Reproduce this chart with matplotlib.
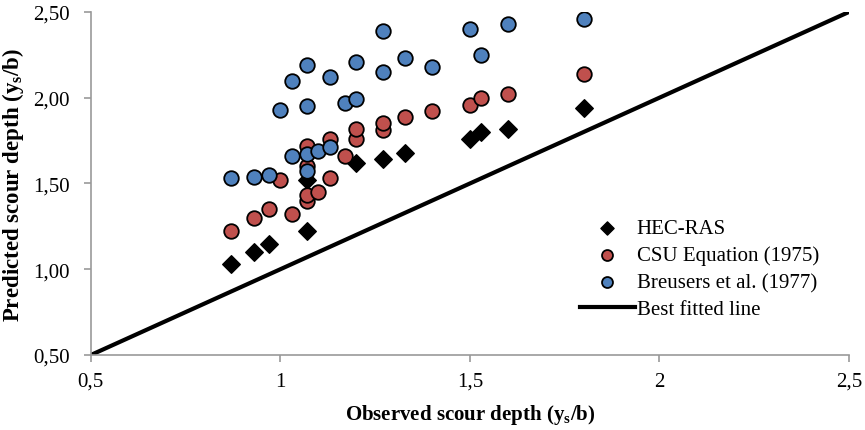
import matplotlib
matplotlib.use('Agg')
import matplotlib.pyplot as plt
from matplotlib.ticker import FuncFormatter

plt.rcParams['font.family'] = 'Liberation Serif'
plt.rcParams['mathtext.fontset'] = 'custom'
plt.rcParams['mathtext.rm'] = 'Liberation Serif'
plt.rcParams['mathtext.bf'] = 'Liberation Serif:bold'

# observed vs predicted (ys/b)
hec_x = [0.87, 0.93, 0.97, 1.07, 1.07, 1.20, 1.27, 1.33, 1.50, 1.53, 1.60, 1.80]
hec_y = [1.03, 1.10, 1.15, 1.22, 1.52, 1.62, 1.64, 1.68, 1.76, 1.80, 1.82, 1.94]

csu_x = [0.87, 0.93, 0.97, 1.00, 1.03, 1.07, 1.07, 1.10, 1.13, 1.17, 1.07, 1.07,
         1.13, 1.20, 1.20, 1.27, 1.27, 1.33, 1.40, 1.50, 1.53, 1.60, 1.80]
csu_y = [1.22, 1.30, 1.35, 1.52, 1.32, 1.40, 1.43, 1.45, 1.53, 1.66, 1.60, 1.72,
         1.76, 1.76, 1.82, 1.81, 1.85, 1.89, 1.92, 1.96, 2.00, 2.02, 2.14]

bre_x = [0.87, 0.93, 0.97, 1.00, 1.03, 1.03, 1.07, 1.07, 1.07, 1.07, 1.10, 1.13,
         1.13, 1.17, 1.20, 1.20, 1.27, 1.27, 1.33, 1.40, 1.50, 1.53, 1.60, 1.80]
bre_y = [1.53, 1.54, 1.55, 1.93, 1.66, 2.10, 1.57, 1.67, 1.95, 2.19, 1.69, 1.71,
         2.12, 1.97, 1.99, 2.21, 2.15, 2.39, 2.23, 2.18, 2.40, 2.25, 2.43, 2.46]

line_x = [0.5, 2.5]
line_y = [0.5, 2.5]

fig = plt.figure(figsize=(8.65, 4.31), dpi=100)
ax = fig.add_axes([0.105, 0.174, 0.8765, 0.796])

ax.plot(line_x, line_y, color='black', lw=3, label='Best fitted line', zorder=1)
ax.scatter(hec_x, hec_y, marker='D', s=80, color='black', label='HEC-RAS', zorder=3)
ax.scatter(csu_x, csu_y, marker='o', s=110, color='#C0504D', edgecolor='black',
           linewidth=1.3, label='CSU Equation (1975)', zorder=3)
ax.scatter(bre_x, bre_y, marker='o', s=110, color='#4F81BD', edgecolor='black',
           linewidth=1.3, label='Breusers et al. (1977)', zorder=3)

ax.set_xlim(0.5, 2.5)
ax.set_ylim(0.5, 2.5)
ax.set_xticks([0.5, 1, 1.5, 2, 2.5])
ax.set_yticks([0.5, 1, 1.5, 2, 2.5])
ax.xaxis.set_major_formatter(FuncFormatter(lambda v, p: ('%g' % v).replace('.', ',')))
ax.yaxis.set_major_formatter(FuncFormatter(lambda v, p: ('%.2f' % v).replace('.', ',')))

for s in ['top', 'right']:
    ax.spines[s].set_visible(False)
for s in ['left', 'bottom']:
    ax.spines[s].set_color('#999999')
    ax.spines[s].set_linewidth(1.2)
ax.tick_params(colors='#999999', labelcolor='black', labelsize=15, length=5, width=1.2)
ax.tick_params(axis='x', pad=7)
ax.tick_params(axis='y', pad=10)

ax.set_xlabel(r'Observed scour depth ($\mathbf{y}_\mathbf{s}$/b)', fontsize=15,
              fontweight='bold', labelpad=8)
ax.set_ylabel(r'Predicted scour depth ($\mathbf{y}_\mathbf{s}$/b)', fontsize=16.5,
              fontweight='bold', labelpad=5)

h, l = ax.get_legend_handles_labels()
order = [1, 2, 3, 0]
leg = ax.legend([h[i] for i in order], [l[i] for i in order], loc='lower right',
                bbox_to_anchor=(0.985, 0.05), frameon=False, fontsize=15,
                markerscale=0.75, handlelength=2.6, handletextpad=0.1, labelspacing=0.35)

fig.savefig('out.png', dpi=100)
